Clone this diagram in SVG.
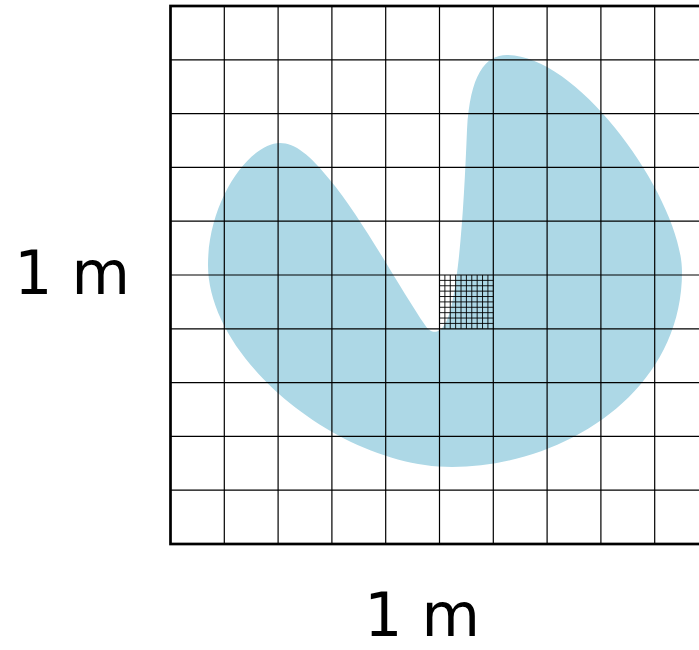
<svg xmlns="http://www.w3.org/2000/svg" width="699" height="650" viewBox="0 0 699 650">
<style>
.shape{fill:#add8e6;stroke:none}
.grid{stroke:#000;stroke-width:1.2;fill:none}
.fine{stroke:#000;stroke-width:0.9;fill:none}
.border{stroke:#000;stroke-width:2.7;fill:none}
.lbl{font-family:"DejaVu Sans",sans-serif;font-size:60px;fill:#000;text-anchor:middle}
</style>
<rect width="699" height="650" fill="#fff"/>
<g id="region">
<path class="shape" d="M 280,143 C 250,143 208,200 208,265 C 208,360 340,467 452,467 C 560,467 682,395 682,272 C 682,200 580,55 507,55 C 485,55 470,75 467,130 C 465,180 462,240 456,280 C 452,310 447,325 440,330 C 436,333 430,333 425,325 C 402,292 360,215 330,180 C 310,155 295,143 280,143 Z"/>
</g>
<g id="grid">
<path class="grid" d="M224.3,6V544M278.1,6V544M331.9,6V544M385.7,6V544M439.5,6V544M493.3,6V544M547.1,6V544M600.9,6V544M654.7,6V544M170.5,59.8H708.5M170.5,113.6H708.5M170.5,167.4H708.5M170.5,221.2H708.5M170.5,275H708.5M170.5,328.8H708.5M170.5,382.6H708.5M170.5,436.4H708.5M170.5,490.2H708.5"/>
<rect class="border" x="170.5" y="6" width="538" height="538"/>
</g>
<g id="fine-grid">
<path class="fine" d="M444.88,275V328.8M450.26,275V328.8M455.64,275V328.8M461.02,275V328.8M466.4,275V328.8M471.78,275V328.8M477.16,275V328.8M482.54,275V328.8M487.92,275V328.8M439.5,280.38H493.3M439.5,285.76H493.3M439.5,291.14H493.3M439.5,296.52H493.3M439.5,301.9H493.3M439.5,307.28H493.3M439.5,312.66H493.3M439.5,318.04H493.3M439.5,323.42H493.3"/>
</g>
<g id="labels">
<text class="lbl" x="72" y="294">1 m</text>
<text class="lbl" x="422" y="636">1 m</text>
</g>
</svg>
